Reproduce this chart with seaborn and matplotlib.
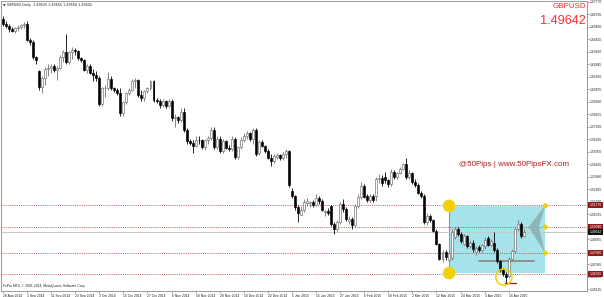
import matplotlib
matplotlib.use("Agg")
import matplotlib.pyplot as plt
import matplotlib.transforms as mtransforms
import numpy as np
import pandas as pd
import seaborn as sns

# ---------------- data ----------------
opens = [
    1.6640, 1.6600, 1.6590, 1.6560, 1.6545, 1.6570, 1.6580, 1.6598, 1.6605, 1.6480,
    1.6460, 1.6340, 1.6230, 1.6110, 1.6180, 1.6245, 1.6260, 1.6270, 1.6240, 1.6255,
    1.6340, 1.6385, 1.6300, 1.6380, 1.6400, 1.6390, 1.6335, 1.6320, 1.6240, 1.6275,
    1.6220, 1.6200, 1.6180, 1.5975, 1.6095, 1.6100, 1.6170, 1.6095, 1.6080, 1.6060,
    1.5900, 1.5985, 1.6060, 1.6085, 1.6150, 1.6160, 1.6045, 1.6020, 1.6075, 1.6095,
    1.6150, 1.6005, 1.5995, 1.5965, 1.5995, 1.5960, 1.6000, 1.5860, 1.5870, 1.5845,
    1.5910, 1.5765, 1.5680, 1.5665, 1.5640, 1.5690, 1.5685, 1.5635, 1.5690, 1.5705,
    1.5770, 1.5630, 1.5700, 1.5600, 1.5680, 1.5625, 1.5615, 1.5700, 1.5555, 1.5630,
    1.5690, 1.5720, 1.5740, 1.5700, 1.5765, 1.5590, 1.5670, 1.5640, 1.5600, 1.5550,
    1.5520, 1.5555, 1.5570, 1.5545, 1.5575, 1.5600, 1.5290, 1.5245, 1.5160, 1.5100,
    1.5140, 1.5195, 1.5190, 1.5200, 1.5175, 1.5230, 1.5210, 1.5120, 1.5130, 1.5165,
    1.5025, 1.4990, 1.5040, 1.5185, 1.5145, 1.5050, 1.5070, 1.5020, 1.5170, 1.5240,
    1.5330, 1.5245, 1.5215, 1.5245, 1.5250, 1.5380, 1.5390, 1.5400, 1.5370, 1.5340,
    1.5440, 1.5400, 1.5430, 1.5460, 1.5500, 1.5395, 1.5430, 1.5360, 1.5335, 1.5275,
    1.5245, 1.5040, 1.5090, 1.5055, 1.4970, 1.4870, 1.4750, 1.4810, 1.4740, 1.4760,
    1.4925, 1.4990, 1.4945, 1.4870, 1.4930, 1.4850, 1.4880, 1.4810, 1.4845, 1.4820,
    1.4850, 1.4915, 1.4865, 1.4880, 1.4825, 1.4735, 1.4665, 1.4630, 1.4620, 1.4755,
    1.4815, 1.4985, 1.5030, 1.4935,
]
highs = [
    1.6668, 1.6625, 1.6600, 1.6580, 1.6580, 1.6595, 1.6605, 1.6620, 1.6625, 1.6490,
    1.6475, 1.6350, 1.6240, 1.6190, 1.6265, 1.6285, 1.6285, 1.6285, 1.6270, 1.6360,
    1.6400, 1.6525, 1.6390, 1.6420, 1.6415, 1.6400, 1.6345, 1.6330, 1.6290, 1.6285,
    1.6250, 1.6230, 1.6190, 1.6110, 1.6125, 1.6225, 1.6190, 1.6110, 1.6095, 1.6095,
    1.6000, 1.6070, 1.6095, 1.6170, 1.6180, 1.6170, 1.6080, 1.6085, 1.6110, 1.6160,
    1.6160, 1.6020, 1.6010, 1.6010, 1.6005, 1.6010, 1.6010, 1.5890, 1.5880, 1.5940,
    1.5940, 1.5780, 1.5700, 1.5690, 1.5720, 1.5720, 1.5700, 1.5700, 1.5720, 1.5790,
    1.5795, 1.5720, 1.5720, 1.5700, 1.5690, 1.5650, 1.5720, 1.5710, 1.5640, 1.5710,
    1.5740, 1.5760, 1.5750, 1.5785, 1.5785, 1.5690, 1.5685, 1.5650, 1.5620, 1.5575,
    1.5575, 1.5590, 1.5580, 1.5595, 1.5620, 1.5610, 1.5310, 1.5255, 1.5180, 1.5170,
    1.5220, 1.5230, 1.5210, 1.5215, 1.5265, 1.5245, 1.5220, 1.5140, 1.5150, 1.5180,
    1.5040, 1.5060, 1.5200, 1.5225, 1.5160, 1.5090, 1.5080, 1.5185, 1.5260, 1.5360,
    1.5345, 1.5260, 1.5260, 1.5260, 1.5395, 1.5420, 1.5410, 1.5440, 1.5385, 1.5460,
    1.5455, 1.5440, 1.5475, 1.5510, 1.5550, 1.5450, 1.5440, 1.5380, 1.5350, 1.5290,
    1.5265, 1.5110, 1.5105, 1.5065, 1.4985, 1.4880, 1.4820, 1.4820, 1.4815, 1.4985,
    1.5005, 1.5000, 1.4965, 1.4945, 1.4940, 1.4890, 1.4900, 1.4850, 1.4860, 1.4870,
    1.4925, 1.4935, 1.4910, 1.4965, 1.4840, 1.4745, 1.4680, 1.4650, 1.4770, 1.4830,
    1.4995, 1.5055, 1.5040, 1.4985,
]
lows = [
    1.6590, 1.6575, 1.6540, 1.6540, 1.6535, 1.6550, 1.6565, 1.6575, 1.6470, 1.6440,
    1.6330, 1.6290, 1.6085, 1.6060, 1.6120, 1.6195, 1.6215, 1.6225, 1.6160, 1.6245,
    1.6300, 1.6285, 1.6290, 1.6330, 1.6355, 1.6320, 1.6300, 1.6230, 1.6220, 1.6210,
    1.6150, 1.6150, 1.5960, 1.5955, 1.6025, 1.6085, 1.6080, 1.6070, 1.6040, 1.5880,
    1.5875, 1.5970, 1.6045, 1.6075, 1.6100, 1.6030, 1.5995, 1.6000, 1.6060, 1.6080,
    1.5990, 1.5980, 1.5940, 1.5950, 1.5940, 1.5950, 1.5840, 1.5790, 1.5820, 1.5830,
    1.5750, 1.5660, 1.5650, 1.5590, 1.5630, 1.5660, 1.5620, 1.5610, 1.5660, 1.5690,
    1.5620, 1.5615, 1.5590, 1.5590, 1.5615, 1.5600, 1.5605, 1.5540, 1.5540, 1.5615,
    1.5670, 1.5700, 1.5680, 1.5660, 1.5560, 1.5570, 1.5630, 1.5590, 1.5540, 1.5480,
    1.5505, 1.5540, 1.5530, 1.5535, 1.5550, 1.5320, 1.5230, 1.5140, 1.5040, 1.5095,
    1.5125, 1.5170, 1.5160, 1.5160, 1.5165, 1.5185, 1.5130, 1.5090, 1.5095, 1.5010,
    1.4952, 1.4975, 1.5030, 1.5120, 1.5050, 1.5030, 1.4990, 1.5005, 1.5150, 1.5225,
    1.5230, 1.5200, 1.5200, 1.5200, 1.5205, 1.5350, 1.5330, 1.5350, 1.5320, 1.5330,
    1.5380, 1.5380, 1.5420, 1.5450, 1.5380, 1.5380, 1.5340, 1.5320, 1.5265, 1.5230,
    1.5030, 1.5020, 1.5040, 1.4960, 1.4860, 1.4740, 1.4730, 1.4740, 1.4725, 1.4745,
    1.4910, 1.4930, 1.4880, 1.4860, 1.4840, 1.4835, 1.4810, 1.4780, 1.4810, 1.4810,
    1.4830, 1.4850, 1.4850, 1.4810, 1.4720, 1.4650, 1.4620, 1.4565, 1.4605, 1.4740,
    1.4800, 1.4970, 1.4920, 1.4925,
]
closes = [
    1.6600, 1.6590, 1.6560, 1.6550, 1.6570, 1.6580, 1.6598, 1.6605, 1.6480, 1.6460,
    1.6340, 1.6320, 1.6110, 1.6180, 1.6245, 1.6260, 1.6270, 1.6240, 1.6255, 1.6340,
    1.6385, 1.6300, 1.6380, 1.6400, 1.6390, 1.6335, 1.6320, 1.6240, 1.6275, 1.6220,
    1.6200, 1.6180, 1.5975, 1.6095, 1.6100, 1.6170, 1.6095, 1.6080, 1.6060, 1.5900,
    1.5985, 1.6060, 1.6085, 1.6150, 1.6160, 1.6045, 1.6020, 1.6075, 1.6095, 1.6150,
    1.6005, 1.5995, 1.5965, 1.5995, 1.5960, 1.5995, 1.5860, 1.5870, 1.5845, 1.5910,
    1.5765, 1.5680, 1.5665, 1.5640, 1.5690, 1.5685, 1.5635, 1.5690, 1.5705, 1.5770,
    1.5630, 1.5700, 1.5600, 1.5680, 1.5625, 1.5615, 1.5700, 1.5555, 1.5630, 1.5690,
    1.5720, 1.5740, 1.5700, 1.5765, 1.5580, 1.5670, 1.5640, 1.5600, 1.5550, 1.5520,
    1.5560, 1.5570, 1.5545, 1.5575, 1.5605, 1.5335, 1.5245, 1.5160, 1.5110, 1.5140,
    1.5200, 1.5210, 1.5200, 1.5175, 1.5230, 1.5210, 1.5140, 1.5130, 1.5110, 1.5025,
    1.4990, 1.5040, 1.5185, 1.5145, 1.5070, 1.5070, 1.5020, 1.5170, 1.5240, 1.5330,
    1.5240, 1.5215, 1.5245, 1.5215, 1.5380, 1.5390, 1.5350, 1.5370, 1.5340, 1.5440,
    1.5400, 1.5430, 1.5460, 1.5500, 1.5400, 1.5430, 1.5360, 1.5335, 1.5275, 1.5245,
    1.5040, 1.5090, 1.5055, 1.4970, 1.4870, 1.4750, 1.4810, 1.4770, 1.4800, 1.4960,
    1.4990, 1.4945, 1.4895, 1.4930, 1.4855, 1.4880, 1.4830, 1.4840, 1.4820, 1.4860,
    1.4900, 1.4865, 1.4895, 1.4825, 1.4735, 1.4665, 1.4630, 1.4610, 1.4755, 1.4815,
    1.4985, 1.5030, 1.4935, 1.49642,
]

date_labels = ["20 Aug 2014", "1 Sep 2014", "11 Sep 2014", "23 Sep 2014", "3 Oct 2014",
               "15 Oct 2014", "27 Oct 2014", "6 Nov 2014", "18 Nov 2014", "28 Nov 2014",
               "10 Dec 2014", "22 Dec 2014", "5 Jan 2015", "15 Jan 2015", "27 Jan 2015",
               "6 Feb 2015", "18 Feb 2015", "2 Mar 2015", "12 Mar 2015", "24 Mar 2015",
               "3 Apr 2015", "15 Apr 2015"]
price_ticks = [1.67770, 1.66785, 1.65800, 1.64815, 1.63830, 1.62845, 1.61860, 1.60875,
               1.59890, 1.58905, 1.57920, 1.56935, 1.55950, 1.54965, 1.53980, 1.52995,
               1.52010, 1.51025, 1.50040, 1.49055, 1.48070, 1.47085, 1.46100, 1.45115]
level_prices = [1.51770, 1.50040, 1.47980, 1.46330]
current_price = 1.49642
zone_top, zone_bottom = 1.51700, 1.46400
arrow_levels = [1.51700, 1.50030, 1.47980]
symbol = "GBPUSD"
header = "\u25BC GBPUSD,Daily  1.49635 1.49655 1.49556 1.49642"
footer = "FxPro MT4, \u00A9 2001-2014, MetaQuotes Software Corp."
watermark = "@50Pips | www.50PipsFX.com"

# ---------------- figure ----------------
sns.set_theme(style="white")
plt.rcParams["font.family"] = ["Liberation Sans", "DejaVu Sans"]

W, H = 604, 297
fig = plt.figure(figsize=(W / 100, H / 100), dpi=100)
ax = fig.add_axes([1 / W, 6 / H, 586 / W, 290 / H])

df = pd.DataFrame({"o": opens, "h": highs, "l": lows, "c": closes})
df["i"] = np.arange(len(df))
bull = df["c"] >= df["o"]

# zone rectangle
zx0, zx1 = 148.2, 180.1
ax.add_patch(plt.Rectangle((zx0, zone_bottom), zx1 - zx0, zone_top - zone_bottom,
                           facecolor="#a3e3e9", edgecolor="none", zorder=0.5))
ax.plot([zx0, zx0], [zone_bottom, zone_top], color="#7f9c9e", lw=0.8, zorder=0.6)

# horizontal levels
for p in level_prices:
    ax.axhline(p, color="#b54848", lw=0.6, ls=(0, (1.2, 1.4)), zorder=1)
ax.axhline(current_price, color="#c8c8c8", lw=0.7, zorder=1)

# arrow shape
ax.fill([zx1, 174.6, zx1, 178.0], [arrow_levels[0], arrow_levels[1], arrow_levels[2], arrow_levels[1]],
        color="#8db6b9", zorder=1.2, lw=0)

# gray and red segments
ax.plot([158.1, 176.4], [1.4735, 1.4735], color="#8f8080", lw=1.2, zorder=1.3)
ax.plot([166.8, 170.4], [1.4562, 1.4562], color="#a01818", lw=0.9, zorder=1.3)

# candles
wick_col = np.where(bull, "#707070", "#000000")
ax.vlines(df["i"], df["l"], df["h"], colors=wick_col, lw=0.6, zorder=2)
body_bottom = np.minimum(df["o"], df["c"])
body_h = np.maximum(np.abs(df["c"] - df["o"]), 0.00025)
ax.bar(df["i"], body_h, bottom=body_bottom, width=0.66,
       color=np.where(bull, "#ffffff", "#000000"),
       edgecolor=np.where(bull, "#6a6a6a", "#000000"), lw=0.45, zorder=2.5)

# yellow markers
big = pd.DataFrame({"x": [zx0, zx0], "y": [zone_top, 1.4640]})
sns.scatterplot(data=big, x="x", y="y", s=80, color="#f3cf05", edgecolor="none", ax=ax, zorder=3)
small = pd.DataFrame({"x": [zx1] * 3, "y": arrow_levels})
sns.scatterplot(data=small, x="x", y="y", s=14, color="#f3cf05", edgecolor="none", ax=ax, zorder=3)
ax.scatter([166.4], [1.4609], s=135, facecolors="none", edgecolors="#f3cf05", lw=1.1, zorder=3)

# axes limits / ticks
ax.set_xlim(-0.66, 194.0)
ax.set_ylim(1.4499, 1.6784)
ax.set_xlabel("")
ax.set_ylabel("")
ax.set_xticks(np.arange(len(date_labels)) * 8)
ax.set_xticklabels(date_labels, fontsize=2.4, ha="left", color="#222222")
ax.yaxis.tick_right()
ax.set_yticks(price_ticks)
ax.set_yticklabels([f"{v:.5f}" for v in price_ticks], fontsize=2.4, color="#222222")
ax.tick_params(axis="both", length=1.5, width=0.4, pad=0.8, color="#555555",
               bottom=True, right=True, left=False)
for s in ax.spines.values():
    s.set_color("#9a9a9a")
    s.set_linewidth(0.7)

# price tags on the axis
trans = mtransforms.blended_transform_factory(ax.transAxes, ax.transData)
for p in level_prices:
    ax.text(1.004, p, f"{p:.5f}", transform=trans, fontsize=2.4, color="white",
            va="center", ha="left", clip_on=False,
            bbox=dict(boxstyle="square,pad=0.35", fc="#8e1c1c", ec="none"))
ax.text(1.004, current_price, f"{current_price:.5f}", transform=trans, fontsize=2.4,
        color="white", va="center", ha="left", clip_on=False,
        bbox=dict(boxstyle="square,pad=0.35", fc="#111111", ec="none"))

# texts
fig.text(3 / W, 1 - 5 / H, header, fontsize=2.4, color="#222222", ha="left", va="center",
         family=["DejaVu Sans"])
fig.text(3 / W, 1 - 286 / H, footer, fontsize=2.4, color="#222222", ha="left", va="center")
fig.text(586 / W, 1 - 6 / H, symbol, fontsize=5.8, color="#ff2b2b", ha="right", va="center")
fig.text(586 / W, 1 - 21 / H, f"{current_price:.5f}", fontsize=9.2, color="#ff2b2b",
         ha="right", va="center")
fig.text(514 / W, 1 - 164 / H, watermark, fontsize=5.8, color="#b01c1c", ha="center",
         va="center")

fig.savefig("out.png", dpi=100)
